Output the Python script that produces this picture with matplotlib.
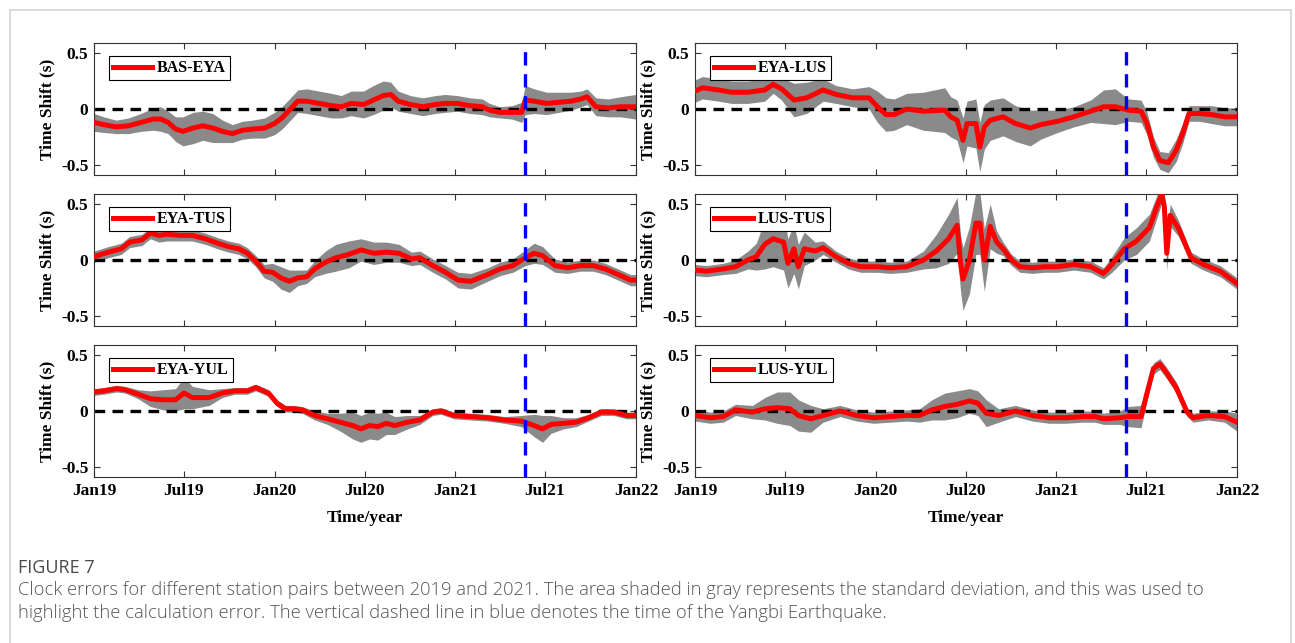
import numpy as np
import matplotlib
matplotlib.use("Agg")
import matplotlib.pyplot as plt
import matplotlib.dates as mdates
from matplotlib.patches import Rectangle

# ---------------- data (days since 2019-01-01, mean shift, std) ----------------
pair_names = ["BAS-EYA", "EYA-LUS", "EYA-TUS", "LUS-TUS", "EYA-YUL", "LUS-YUL"]

bas_eya_days = [0, 20, 45, 70, 95, 120, 135, 150, 165, 180, 200, 220, 240, 260, 280, 300, 320, 345,
                365, 380, 395, 412, 430, 455, 480, 500, 520, 545, 565, 585, 600, 615, 640, 665, 690,
                710, 735, 760, 785, 800, 820, 845, 865, 872, 890, 915, 940, 965, 985, 997, 1015,
                1040, 1065, 1096]
bas_eya_mean = [-0.12, -0.14, -0.16, -0.15, -0.12, -0.09, -0.09, -0.12, -0.18, -0.20, -0.17, -0.15,
                -0.17, -0.20, -0.22, -0.19, -0.18, -0.17, -0.13, -0.08, -0.01, 0.07, 0.07, 0.05,
                0.03, 0.02, 0.05, 0.04, 0.08, 0.12, 0.13, 0.07, 0.04, 0.02, 0.04, 0.05, 0.05, 0.03,
                0.02, -0.01, -0.03, -0.03, -0.03, 0.08, 0.07, 0.05, 0.06, 0.07, 0.09, 0.11, 0.02,
                0.01, 0.02, 0.02]
bas_eya_std = [0.08, 0.07, 0.06, 0.07, 0.08, 0.10, 0.11, 0.10, 0.11, 0.13, 0.14, 0.13, 0.13, 0.10,
               0.08, 0.08, 0.08, 0.09, 0.10, 0.10, 0.10, 0.10, 0.11, 0.11, 0.11, 0.10, 0.11, 0.12,
               0.13, 0.13, 0.11, 0.09, 0.08, 0.08, 0.08, 0.08, 0.07, 0.07, 0.07, 0.06, 0.05, 0.06,
               0.09, 0.13, 0.11, 0.10, 0.09, 0.08, 0.07, 0.07, 0.08, 0.08, 0.09, 0.11]

eya_lus_days = [0, 15, 48, 74, 107, 141, 158, 175, 200, 226, 259, 285, 319, 352, 369, 386, 403, 428,
                462, 505, 517, 530, 542, 550, 568, 576, 585, 597, 623, 648, 678, 699, 733, 766, 800,
                826, 850, 876, 902, 914, 927, 940, 957, 973, 986, 999, 1020, 1045, 1071, 1096]
eya_lus_mean = [0.16, 0.19, 0.17, 0.15, 0.15, 0.17, 0.22, 0.18, 0.08, 0.10, 0.17, 0.13, 0.10, 0.10,
                0.02, -0.05, -0.05, 0.00, -0.02, -0.01, -0.07, -0.10, -0.28, -0.13, -0.13, -0.34,
                -0.16, -0.10, -0.07, -0.13, -0.17, -0.14, -0.11, -0.07, -0.02, 0.02, 0.02, -0.01,
                -0.02, -0.13, -0.34, -0.46, -0.48, -0.37, -0.22, -0.04, -0.04, -0.05, -0.07, -0.07]
eya_lus_std = [0.10, 0.10, 0.10, 0.10, 0.10, 0.10, 0.08, 0.10, 0.15, 0.14, 0.10, 0.08, 0.08, 0.10,
               0.14, 0.15, 0.14, 0.14, 0.17, 0.20, 0.18, 0.18, 0.20, 0.20, 0.22, 0.22, 0.20, 0.18,
               0.17, 0.16, 0.16, 0.13, 0.10, 0.09, 0.10, 0.15, 0.16, 0.10, 0.10, 0.10, 0.09, 0.08,
               0.09, 0.10, 0.09, 0.07, 0.07, 0.08, 0.08, 0.08]

eya_tus_days = [0, 29, 55, 72, 97, 114, 131, 148, 174, 199, 225, 250, 272, 293, 310, 327, 344, 361,
                378, 395, 412, 430, 446, 468, 489, 515, 540, 566, 591, 617, 642, 659, 685, 711, 736,
                762, 796, 821, 847, 872, 890, 907, 932, 958, 983, 1009, 1034, 1060, 1085, 1096]
eya_tus_mean = [0.03, 0.07, 0.10, 0.16, 0.18, 0.24, 0.22, 0.23, 0.22, 0.22, 0.19, 0.15, 0.12, 0.10,
                0.06, -0.01, -0.10, -0.11, -0.16, -0.19, -0.16, -0.15, -0.08, -0.02, 0.02, 0.05,
                0.09, 0.06, 0.07, 0.06, 0.01, 0.02, -0.05, -0.11, -0.18, -0.19, -0.13, -0.08, -0.05,
                0.02, 0.06, 0.04, -0.05, -0.07, -0.05, -0.05, -0.08, -0.13, -0.18, -0.18]
eya_tus_std = [0.05, 0.05, 0.05, 0.05, 0.05, 0.05, 0.06, 0.06, 0.05, 0.05, 0.05, 0.05, 0.05, 0.05,
               0.05, 0.05, 0.06, 0.08, 0.10, 0.10, 0.07, 0.06, 0.07, 0.10, 0.12, 0.12, 0.10, 0.10,
               0.09, 0.08, 0.06, 0.06, 0.06, 0.06, 0.07, 0.07, 0.06, 0.06, 0.06, 0.07, 0.09, 0.08,
               0.06, 0.05, 0.05, 0.05, 0.05, 0.05, 0.05, 0.05]

lus_tus_days = [0, 23, 57, 82, 107, 124, 141, 158, 179, 188, 200, 209, 221, 243, 259, 285, 310, 335,
                369, 395, 428, 462, 488, 513, 530, 537, 542, 555, 568, 576, 585, 597, 610, 623, 640,
                657, 682, 707, 733, 766, 800, 826, 843, 868, 893, 919, 935, 944, 949, 954, 961, 978,
                1003, 1028, 1062, 1096]
lus_tus_mean = [-0.09, -0.10, -0.08, -0.06, 0.00, 0.03, 0.14, 0.19, 0.16, -0.03, 0.10, -0.06, 0.10,
                0.08, 0.11, 0.03, -0.03, -0.06, -0.06, -0.07, -0.06, 0.00, 0.08, 0.19, 0.31, -0.03,
                -0.17, 0.00, 0.33, 0.33, 0.00, 0.30, 0.16, 0.10, 0.00, -0.06, -0.07, -0.06, -0.06,
                -0.04, -0.06, -0.12, -0.04, 0.10, 0.17, 0.29, 0.49, 0.59, 0.48, 0.06, 0.40, 0.28,
                0.02, -0.04, -0.10, -0.21]
lus_tus_std = [0.05, 0.05, 0.05, 0.06, 0.08, 0.12, 0.22, 0.25, 0.25, 0.22, 0.22, 0.20, 0.15, 0.08,
               0.06, 0.05, 0.05, 0.05, 0.05, 0.05, 0.05, 0.08, 0.15, 0.22, 0.25, 0.25, 0.28, 0.30,
               0.28, 0.28, 0.28, 0.20, 0.10, 0.06, 0.05, 0.05, 0.05, 0.05, 0.05, 0.05, 0.05, 0.05,
               0.07, 0.10, 0.12, 0.12, 0.10, 0.08, 0.10, 0.15, 0.10, 0.07, 0.05, 0.05, 0.05, 0.05]

eya_yul_days = [0, 20, 46, 63, 89, 114, 140, 165, 182, 199, 233, 259, 285, 310, 327, 353, 370, 387,
                404, 421, 446, 472, 498, 523, 540, 557, 574, 591, 608, 634, 659, 685, 702, 728, 762,
                796, 830, 864, 890, 907, 924, 949, 975, 1000, 1026, 1051, 1077, 1096]
eya_yul_mean = [0.17, 0.18, 0.20, 0.19, 0.15, 0.11, 0.10, 0.10, 0.16, 0.12, 0.12, 0.16, 0.18, 0.18,
                0.21, 0.16, 0.07, 0.02, 0.02, 0.01, -0.04, -0.07, -0.10, -0.13, -0.16, -0.13,
                -0.14, -0.11, -0.13, -0.10, -0.08, -0.01, 0.00, -0.04, -0.05, -0.06, -0.08, -0.09,
                -0.13, -0.16, -0.12, -0.11, -0.10, -0.06, -0.01, -0.01, -0.04, -0.04]
eya_yul_std = [0.03, 0.03, 0.03, 0.03, 0.04, 0.07, 0.09, 0.10, 0.14, 0.10, 0.07, 0.04, 0.03, 0.03,
               0.03, 0.03, 0.03, 0.03, 0.03, 0.03, 0.04, 0.05, 0.08, 0.12, 0.12, 0.12, 0.12, 0.10,
               0.08, 0.06, 0.04, 0.03, 0.03, 0.03, 0.03, 0.03, 0.03, 0.05, 0.10, 0.12, 0.08, 0.05,
               0.04, 0.03, 0.03, 0.03, 0.03, 0.03]

lus_yul_days = [0, 31, 57, 82, 116, 141, 166, 192, 209, 234, 259, 293, 327, 361, 395, 428, 454, 479,
                505, 530, 555, 572, 589, 614, 648, 682, 716, 750, 783, 809, 826, 859, 876, 902, 914,
                927, 940, 952, 973, 995, 1007, 1037, 1071, 1096]
lus_yul_mean = [-0.04, -0.06, -0.05, 0.01, -0.01, 0.02, 0.03, 0.02, -0.04, -0.07, -0.04, 0.00, -0.04,
                -0.06, -0.05, -0.04, -0.04, 0.01, 0.04, 0.06, 0.09, 0.07, -0.02, -0.04, 0.00, -0.04,
                -0.06, -0.06, -0.05, -0.05, -0.07, -0.06, -0.05, -0.05, 0.16, 0.38, 0.42, 0.35,
                0.21, -0.01, -0.06, -0.04, -0.05, -0.10]
lus_yul_std = [0.05, 0.05, 0.05, 0.05, 0.06, 0.10, 0.14, 0.15, 0.14, 0.12, 0.06, 0.05, 0.05, 0.05,
               0.05, 0.05, 0.06, 0.09, 0.12, 0.12, 0.11, 0.11, 0.12, 0.06, 0.05, 0.05, 0.05, 0.05,
               0.05, 0.05, 0.05, 0.06, 0.09, 0.10, 0.07, 0.05, 0.05, 0.05, 0.05, 0.04, 0.04, 0.04,
               0.05, 0.08]

series_days = [bas_eya_days, eya_lus_days, eya_tus_days, lus_tus_days, eya_yul_days, lus_yul_days]
series_mean = [bas_eya_mean, eya_lus_mean, eya_tus_mean, lus_tus_mean, eya_yul_mean, lus_yul_mean]
series_std = [bas_eya_std, eya_lus_std, eya_tus_std, lus_tus_std, eya_yul_std, lus_yul_std]

start_date = "2019-01-01"
quake_date = "2021-05-21"
x_tick_dates = ["2019-01-01", "2019-07-01", "2020-01-01", "2020-07-01",
                "2021-01-01", "2021-07-01", "2022-01-01"]
y_ticks = [-0.5, 0, 0.5]
y_tick_labels = ["-0.5", "0", "0.5"]
caption_title = "FIGURE 7"
caption_lines = [
    "Clock errors for different station pairs between 2019 and 2021. The area shaded in gray represents the standard deviation, and this was used to",
    "highlight the calculation error. The vertical dashed line in blue denotes the time of the Yangbi Earthquake.",
]

# ---------------- figure ----------------
W, H = 1295, 643
fig = plt.figure(figsize=(W / 100, H / 100), dpi=100)
fig.patch.set_facecolor("white")

serif = ["Liberation Serif", "DejaVu Serif"]
col_left = [94, 695]
ax_w = 542
row_top = [43, 194, 345]
ax_h = 132

# outer frame
fig.add_artist(Rectangle((10 / W, -0.1), (1291 - 10) / W, 1.1 - 10 / H,
                         transform=fig.transFigure, fill=False, edgecolor="#d4d4d4",
                         linewidth=1.2, clip_on=False))

t0 = np.datetime64(start_date)
xmin = mdates.date2num(np.datetime64("2019-01-01"))
xmax = mdates.date2num(np.datetime64("2022-01-01"))
xticks = [mdates.date2num(np.datetime64(d)) for d in x_tick_dates]
xq = mdates.date2num(np.datetime64(quake_date))

for i in range(6):
    r, c = divmod(i, 2)
    x0 = col_left[c]
    y0 = row_top[r]
    ax = fig.add_axes([x0 / W, 1 - (y0 + ax_h) / H, ax_w / W, ax_h / H])
    d = t0 + np.array(series_days[i]).astype("timedelta64[D]")
    xn = mdates.date2num(d)
    m = np.array(series_mean[i])
    s = np.array(series_std[i])
    ax.fill_between(xn, m - s, m + s, color="#8a8a8a", linewidth=0, zorder=1)
    ax.axhline(0, color="black", linewidth=2.4, dashes=(3.2, 2.2), zorder=2)
    ax.plot(xn, m, color="#ff0000", linewidth=3.6, zorder=3, label=pair_names[i],
            solid_joinstyle="round")
    ax.axvline(xq, color="#0000ff", linewidth=2.4, dashes=(4, 2.6), zorder=4)
    ax.set_xlim(xmin, xmax)
    ax.set_ylim(-0.59, 0.59)
    ax.set_xticks(xticks)
    ax.set_yticks(y_ticks)
    ax.set_yticklabels(y_tick_labels)
    ax.xaxis.set_major_formatter(mdates.DateFormatter("%b%y"))
    ax.tick_params(direction="in", top=True, right=True, length=4, width=0.8,
                   color="#333333", labelsize=12.5, pad=4)
    for lab in ax.get_xticklabels() + ax.get_yticklabels():
        lab.set_fontfamily(serif)
        lab.set_fontweight("bold")
    if r < 2:
        ax.tick_params(labelbottom=False)
    for sp in ax.spines.values():
        sp.set_color("#333333")
        sp.set_linewidth(0.8)
    ax.set_ylabel("Time Shift (s)", fontfamily=serif, fontweight="bold", fontsize=12.5, labelpad=4)
    if r == 2:
        ax.set_xlabel("Time/year", fontfamily=serif, fontweight="bold", fontsize=12.5, labelpad=8)
    leg = ax.legend(loc="upper left", bbox_to_anchor=(0.028, 0.9), fancybox=False,
                    edgecolor="black", framealpha=1, handlelength=2.4, handletextpad=0.35,
                    borderpad=0.25, borderaxespad=0,
                    prop={"family": serif, "weight": "bold", "size": 11.5})
    leg.get_frame().set_linewidth(0.8)
    leg.set_zorder(6)

fig.text(18 / W, 1 - 568 / H, caption_title, fontfamily="Open Sans", fontsize=13,
         color="#4a4a4a", va="center", ha="left")
for k, line in enumerate(caption_lines):
    fig.text(18 / W, 1 - (590 + 23 * k) / H, line, fontfamily="Open Sans", fontsize=13.2,
             color="#555555", va="center", ha="left", fontweight="light")

fig.savefig("out.png", dpi=100, facecolor="white")
